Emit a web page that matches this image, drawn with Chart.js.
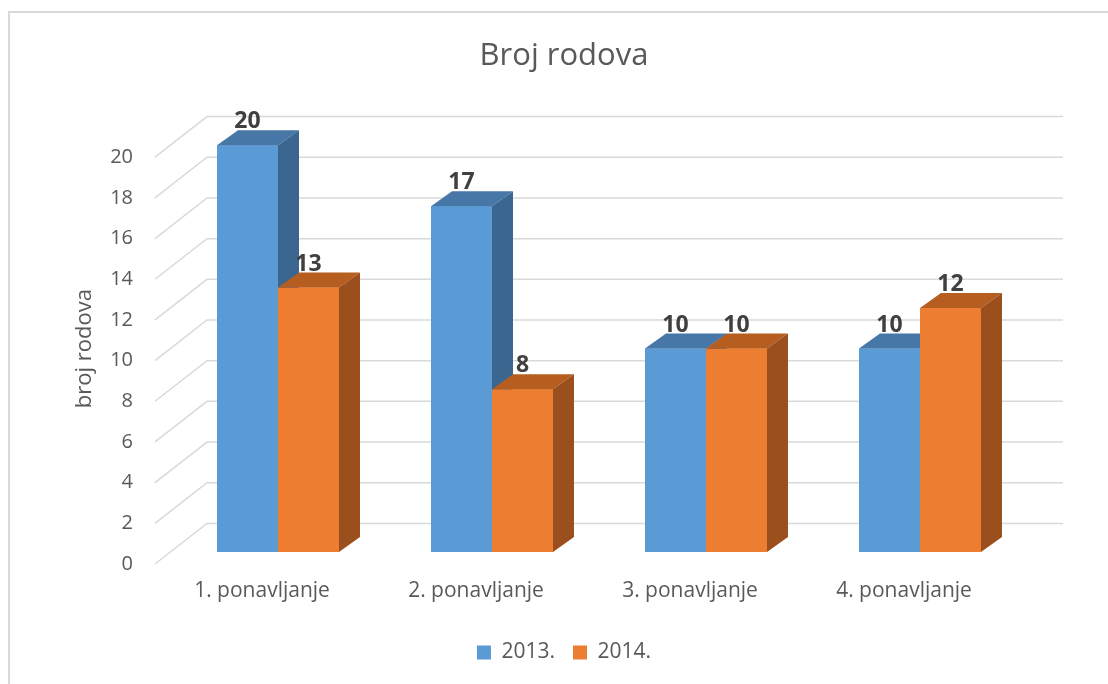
<!DOCTYPE html>
<html>
<head>
<meta charset="utf-8">
<script src="https://cdn.jsdelivr.net/npm/chart.js@4/dist/chart.umd.min.js"></script>
<style>
  html, body { margin: 0; padding: 0; background: #fff; overflow: hidden; }
  #frame { position: absolute; left: 8px; top: 11px; width: 1200px; height: 800px; border: 2px solid #d9d9d9; box-sizing: border-box; }
  #wrap { position: absolute; left: 0; top: 0; width: 1108px; height: 684px; }
</style>
</head>
<body>
<div id="frame"></div>
<div id="wrap"><canvas id="c" width="1108" height="684"></canvas></div>
<script>
const categories = ['1. ponavljanje', '2. ponavljanje', '3. ponavljanje', '4. ponavljanje'];
const series2013 = [20, 17, 10, 10];
const series2014 = [13, 8, 10, 12];
const seriesNames = ['2013.', '2014.'];
const yTicks = [0, 2, 4, 6, 8, 10, 12, 14, 16, 18, 20];

const FONT = "'Open Sans', 'DejaVu Sans', sans-serif";
const TEXT = '#595959';
const faceColors = [
  { front: '#5B9BD5', top: '#4677A6', side: '#3A6690' },
  { front: '#ED7D31', top: '#B65D20', side: '#9B4F1C' }
];
const DX = 21, DY = 15;          // bar depth
const WALL_DX = 52, WALL_DY = 40.6; // full box depth
const FRONT_SHIFT_X = 16, FRONT_SHIFT_Y = 12; // box front plane relative to bar front

const gridPlugin = {
  id: 'grid3d',
  beforeDatasetsDraw(chart) {
    const ctx = chart.ctx;
    const ys = chart.scales.y;
    const area = chart.chartArea;
    const xFront = area.left - FRONT_SHIFT_X;
    const xBack = xFront + WALL_DX;
    const xEnd = area.right + 36;
    ctx.save();
    ctx.strokeStyle = '#D9D9D9';
    ctx.lineWidth = 1.5;
    yTicks.forEach(v => {
      const yf = ys.getPixelForValue(v) + FRONT_SHIFT_Y;
      const yb = yf - WALL_DY;
      ctx.beginPath();
      ctx.moveTo(xFront, yf);
      ctx.lineTo(xBack, yb);
      ctx.lineTo(xEnd, yb);
      ctx.stroke();
    });
    ctx.restore();
  },
  afterDatasetsDraw(chart) {
    const ctx = chart.ctx;
    const metas = [chart.getDatasetMeta(0), chart.getDatasetMeta(1)];
    ctx.save();
    for (let i = 0; i < categories.length; i++) {
      metas.forEach((meta, di) => {
        const bar = meta.data[i];
        const p = bar.getProps(['x', 'y', 'base', 'width'], true);
        const l = p.x - p.width / 2, r = p.x + p.width / 2;
        const t = p.y, b = p.base;
        const c = faceColors[di];
        ctx.fillStyle = c.front;
        ctx.fillRect(l, t, r - l, b - t);
        ctx.fillStyle = c.top;
        ctx.beginPath();
        ctx.moveTo(l, t); ctx.lineTo(r, t); ctx.lineTo(r + DX, t - DY); ctx.lineTo(l + DX, t - DY); ctx.closePath();
        ctx.fill();
        ctx.fillStyle = c.side;
        ctx.beginPath();
        ctx.moveTo(r, t); ctx.lineTo(r + DX, t - DY); ctx.lineTo(r + DX, b - DY); ctx.lineTo(r, b); ctx.closePath();
        ctx.fill();
      });
    }
    // data labels
    ctx.fillStyle = '#404040';
    ctx.font = "bold 23px " + FONT;
    ctx.textAlign = 'center';
    ctx.textBaseline = 'alphabetic';
    metas.forEach((meta, di) => {
      const vals = di === 0 ? series2013 : series2014;
      meta.data.forEach((bar, i) => {
        const p = bar.getProps(['x', 'y'], true);
        ctx.fillText(String(vals[i]), p.x, p.y - DY - 2);
      });
    });
    ctx.restore();
  }
};

new Chart(document.getElementById('c'), {
  type: 'bar',
  data: {
    labels: categories,
    datasets: [
      { label: seriesNames[0], data: series2013, backgroundColor: faceColors[0].front, borderWidth: 0 },
      { label: seriesNames[1], data: series2014, backgroundColor: faceColors[1].front, borderWidth: 0 }
    ]
  },
  options: {
    responsive: false,
    animation: false,
    events: [],
    layout: { padding: { left: 20, right: 0, top: 0, bottom: 11 } },
    datasets: { bar: { categoryPercentage: 0.57, barPercentage: 1 } },
    scales: {
      x: {
        grid: { display: false, drawTicks: false },
        border: { display: false },
        ticks: { color: TEXT, font: { family: FONT, size: 21 }, labelOffset: -16, padding: 26, maxRotation: 0 },
        afterFit(s) { s.height = 72; }
      },
      y: {
        min: 0, max: 20,
        grid: { display: false, drawTicks: false },
        border: { display: false },
        ticks: { stepSize: 2, color: TEXT, font: { family: FONT, size: 20 }, labelOffset: 12, padding: 38 },
        title: { display: true, text: 'broj rodova', color: TEXT, font: { family: FONT, size: 22 }, padding: { top: 52, bottom: 0 } },
        afterFit(s) { s.width = 151; }
      },
      y2: {
        position: 'right',
        display: true,
        grid: { display: false, drawTicks: false },
        border: { display: false },
        ticks: { display: false },
        afterFit(s) { s.width = 81; }
      }
    },
    plugins: {
      title: { display: true, text: 'Broj rodova', color: TEXT, font: { family: FONT, size: 31, weight: 'normal' }, padding: { top: 38, bottom: 70 } },
      legend: {
        position: 'bottom',
        labels: { color: TEXT, font: { family: FONT, size: 21 }, boxWidth: 14, boxHeight: 14, padding: 18 }
      },
      tooltip: { enabled: false }
    }
  },
  plugins: [gridPlugin]
});
</script>
</body>
</html>
